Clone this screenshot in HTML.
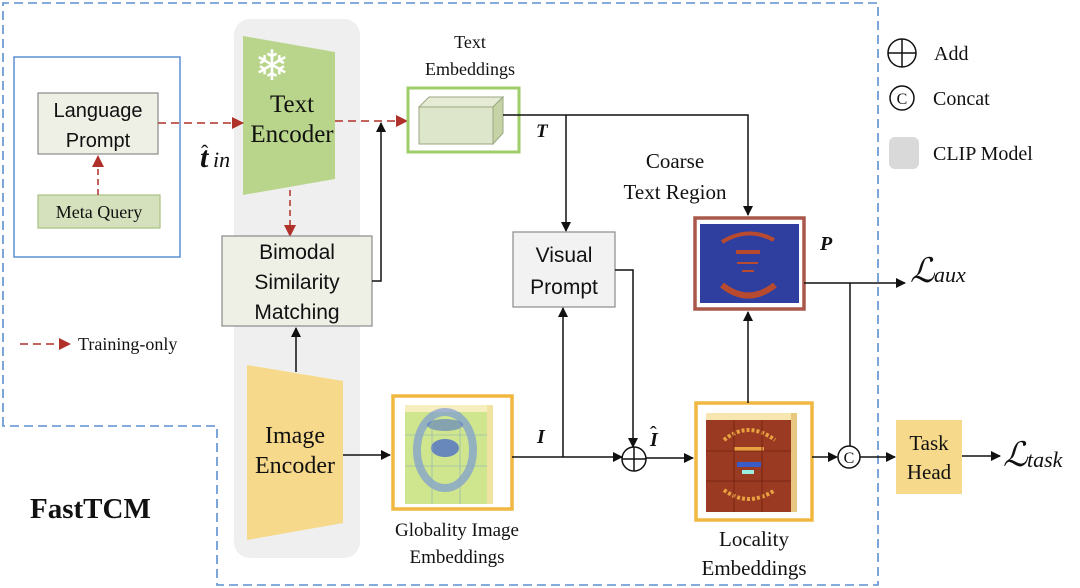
<!DOCTYPE html>
<html><head><meta charset="utf-8"><style>
html,body{margin:0;padding:0;background:#fff;}
svg{display:block;}
text{font-family:"Liberation Serif",serif;fill:#111;}
.sans{font-family:"Liberation Sans",sans-serif;}
</style></head><body>
<svg width="1080" height="588" viewBox="0 0 1080 588" xmlns="http://www.w3.org/2000/svg">
<defs>
<marker id="ab" markerWidth="10" markerHeight="10" refX="9" refY="5" orient="auto" markerUnits="userSpaceOnUse"><path d="M0,0 L10,5 L0,10 z" fill="#111"/></marker>
<marker id="ar" markerWidth="12" markerHeight="12" refX="11" refY="6" orient="auto" markerUnits="userSpaceOnUse"><path d="M0,0 L12,6 L0,12 z" fill="#b0302a"/></marker>
</defs>
<path d="M3,426 L3,3 L878,3 L878,585 L217,585 L217,426 Z" fill="none" stroke="#5b8fd0" stroke-width="1.6" stroke-dasharray="9,5"/>
<rect x="234" y="19" width="126" height="539" rx="16" fill="#efefef"/>
<rect x="14" y="57" width="166" height="200" fill="none" stroke="#5b8fd0" stroke-width="1.5"/>
<rect x="38" y="93" width="120" height="61" fill="#eef0e6" stroke="#8a8a8a" stroke-width="1.2"/>
<text class="sans" x="98" y="117" font-size="20" text-anchor="middle">Language</text>
<text class="sans" x="98" y="147" font-size="20" text-anchor="middle">Prompt</text>
<rect x="38" y="195" width="122" height="33" fill="#d5e0bc" stroke="#a9c282" stroke-width="1.2"/>
<text x="99" y="218" font-size="18" text-anchor="middle">Meta Query</text>
<line x1="98" y1="195" x2="98" y2="156" stroke="#b0302a" stroke-width="1.5" stroke-dasharray="6,4" marker-end="url(#ar)"/>
<polygon points="243,36 335,52 335,179 243,195" fill="#b9d58b"/>
<text x="272" y="80" font-size="42" style="fill:#fff" text-anchor="middle">❄</text>
<text x="292" y="112" font-size="25" text-anchor="middle">Text</text>
<text x="292" y="142" font-size="25" text-anchor="middle">Encoder</text>
<line x1="158" y1="123" x2="243" y2="123" stroke="#b0302a" stroke-width="1.5" stroke-dasharray="8,5" marker-end="url(#ar)"/>
<text x="200" y="167" font-size="30" font-weight="bold" font-style="italic">t</text>
<text x="201" y="160" font-size="22">ˆ</text>
<text x="213" y="167" font-size="22" font-style="italic">in</text>
<line x1="335" y1="121" x2="407" y2="121" stroke="#b0302a" stroke-width="1.5" stroke-dasharray="8,5" marker-end="url(#ar)"/>
<line x1="290" y1="190" x2="290" y2="236" stroke="#b0302a" stroke-width="1.5" stroke-dasharray="6,4" marker-end="url(#ar)"/>
<rect x="222" y="236" width="150" height="90" fill="#eef0e6" stroke="#8a8a8a" stroke-width="1.2"/>
<text class="sans" x="297" y="259" font-size="21" text-anchor="middle">Bimodal</text>
<text class="sans" x="297" y="289" font-size="21" text-anchor="middle">Similarity</text>
<text class="sans" x="297" y="319" font-size="21" text-anchor="middle">Matching</text>
<polyline points="372,281 381,281 381,123" fill="none" stroke="#111" stroke-width="1.5" marker-end="url(#ab)"/>
<polygon points="247,365 343,381 343,523 247,540" fill="#f6d98a"/>
<text x="295" y="443" font-size="24" text-anchor="middle">Image</text>
<text x="295" y="473" font-size="24" text-anchor="middle">Encoder</text>
<line x1="296" y1="372" x2="296" y2="328" stroke="#111" stroke-width="1.5" marker-end="url(#ab)"/>
<line x1="343" y1="455" x2="390" y2="455" stroke="#111" stroke-width="1.5" marker-end="url(#ab)"/>
<line x1="20" y1="344" x2="70" y2="344" stroke="#b0302a" stroke-width="1.5" stroke-dasharray="8,5" marker-end="url(#ar)"/>
<text x="78" y="350" font-size="18">Training-only</text>
<text x="30" y="518" font-size="29" font-weight="bold">FastTCM</text>
<text x="470" y="48" font-size="18" text-anchor="middle">Text</text>
<text x="470" y="75" font-size="18" text-anchor="middle">Embeddings</text>
<rect x="408" y="88" width="111" height="64" fill="#fff" stroke="#9fcd6a" stroke-width="3"/>
<polygon points="419,107 429,97 503,97 493,107" fill="#e6ebd6" stroke="#9aa880"/>
<polygon points="493,107 503,97 503,133 493,144" fill="#c6d3a6" stroke="#9aa880"/>
<rect x="419" y="107" width="74" height="37" fill="#dde5cb" stroke="#9aa880"/>
<text x="536" y="137" font-size="19" font-weight="bold" font-style="italic">T</text>
<polyline points="503,115 748,115 748,215" fill="none" stroke="#111" stroke-width="1.5" marker-end="url(#ab)"/>
<line x1="566" y1="115" x2="566" y2="231" stroke="#111" stroke-width="1.5" marker-end="url(#ab)"/>
<text x="675" y="168" font-size="21" text-anchor="middle">Coarse</text>
<text x="675" y="199" font-size="21" text-anchor="middle">Text Region</text>
<rect x="695" y="218" width="109" height="91" fill="#fff" stroke="#a9584a" stroke-width="3.5"/>
<rect x="700" y="224" width="99" height="79" fill="#2f3fa0"/>
<path d="M722,242 Q748,226 774,240" fill="none" stroke="#b84a30" stroke-width="4"/>
<line x1="736" y1="252" x2="760" y2="252" stroke="#b84a30" stroke-width="4"/>
<line x1="737" y1="263" x2="758" y2="263" stroke="#b84a30" stroke-width="2"/>
<line x1="742" y1="271" x2="754" y2="271" stroke="#b84a30" stroke-width="2"/>
<path d="M722,285 Q748,306 775,285" fill="none" stroke="#b84a30" stroke-width="6"/>
<text x="820" y="250" font-size="20" font-weight="bold" font-style="italic">P</text>
<line x1="804" y1="283" x2="905" y2="283" stroke="#111" stroke-width="1.5" marker-end="url(#ab)"/>
<text x="910" y="282" font-size="34" font-style="italic">ℒ</text>
<text x="934" y="282" font-size="22" font-style="italic">aux</text>
<line x1="850" y1="283" x2="850" y2="446" stroke="#111" stroke-width="1.5"/>
<rect x="513" y="232" width="102" height="75" fill="#f2f2f2" stroke="#8a8a8a" stroke-width="1.2"/>
<text class="sans" x="564" y="262" font-size="21" text-anchor="middle">Visual</text>
<text class="sans" x="564" y="294" font-size="21" text-anchor="middle">Prompt</text>
<polyline points="615,270 633,270 633,447" fill="none" stroke="#111" stroke-width="1.5" marker-end="url(#ab)"/>
<line x1="563" y1="457" x2="563" y2="308" stroke="#111" stroke-width="1.5" marker-end="url(#ab)"/>
<rect x="393" y="396" width="119" height="113" fill="#fff" stroke="#f0b840" stroke-width="3.5"/>
<rect x="405" y="412" width="82" height="92" fill="#cfe68e"/>
<rect x="405" y="405" width="82" height="7" fill="#f7eec0"/>
<rect x="487" y="405" width="6" height="99" fill="#f0e2a0"/>
<ellipse cx="445" cy="450" rx="28" ry="38" fill="none" stroke="#6a8ee0" stroke-width="8" opacity="0.6"/>
<ellipse cx="445" cy="448" rx="14" ry="9" fill="#3c5fd0" opacity="0.7"/>
<ellipse cx="445" cy="425" rx="18" ry="6" fill="#3c5fd0" opacity="0.5"/>
<path d="M405,435 H487 M405,466 H487 M432,412 V504 M460,412 V504" stroke="#8ab" stroke-width="0.6"/>
<text x="457" y="536" font-size="19" text-anchor="middle">Globality Image</text>
<text x="457" y="563" font-size="19" text-anchor="middle">Embeddings</text>
<line x1="512" y1="457" x2="622" y2="457" stroke="#111" stroke-width="1.5" marker-end="url(#ab)"/>
<text x="537" y="443" font-size="20" font-weight="bold" font-style="italic">I</text>
<circle cx="634" cy="459" r="12" fill="#fff" stroke="#111" stroke-width="1.5"/>
<path d="M622,459 H646 M634,447 V471" stroke="#111" stroke-width="1.5"/>
<line x1="646" y1="458" x2="693" y2="458" stroke="#111" stroke-width="1.5" marker-end="url(#ab)"/>
<text x="650" y="446" font-size="20" font-weight="bold" font-style="italic">I</text>
<text x="650" y="440" font-size="20">ˆ</text>
<rect x="696" y="403" width="116" height="117" fill="#fff" stroke="#f0b840" stroke-width="3.5"/>
<rect x="706" y="420" width="85" height="92" fill="#9a3a22"/>
<rect x="706" y="413" width="85" height="7" fill="#f7e6b0"/>
<rect x="791" y="413" width="6" height="99" fill="#e8c880"/>
<path d="M724,440 Q748,420 775,440 M724,490 Q748,508 775,490" fill="none" stroke="#e8a040" stroke-width="4" stroke-dasharray="3,2"/>
<rect x="734" y="447" width="30" height="4" fill="#e8a040"/>
<rect x="737" y="462" width="24" height="5" fill="#3a5cc8"/>
<rect x="742" y="470" width="12" height="4" fill="#9ed"/>
<path d="M706,451 H791 M706,481 H791 M734,420 V512 M762,420 V512" stroke="#702010" stroke-width="0.8"/>
<text x="754" y="546" font-size="21" text-anchor="middle">Locality</text>
<text x="754" y="575" font-size="21" text-anchor="middle">Embeddings</text>
<line x1="748" y1="403" x2="748" y2="312" stroke="#111" stroke-width="1.5" marker-end="url(#ab)"/>
<line x1="812" y1="457" x2="837" y2="457" stroke="#111" stroke-width="1.5" marker-end="url(#ab)"/>
<circle cx="849" cy="457" r="11" fill="#fff" stroke="#111" stroke-width="1.5"/>
<text x="849" y="463" font-size="16" text-anchor="middle">C</text>
<line x1="860" y1="457" x2="895" y2="457" stroke="#111" stroke-width="1.5" marker-end="url(#ab)"/>
<rect x="896" y="420" width="66" height="74" fill="#f6d98a"/>
<text x="929" y="450" font-size="21" text-anchor="middle">Task</text>
<text x="929" y="479" font-size="21" text-anchor="middle">Head</text>
<line x1="962" y1="456" x2="1000" y2="456" stroke="#111" stroke-width="1.5" marker-end="url(#ab)"/>
<text x="1003" y="466" font-size="34" font-style="italic">ℒ</text>
<text x="1027" y="467" font-size="22" font-style="italic">task</text>
<circle cx="902" cy="53" r="14" fill="none" stroke="#111" stroke-width="1.5"/>
<path d="M888,53 H916 M902,39 V67" stroke="#111" stroke-width="1.5"/>
<text x="934" y="60" font-size="20">Add</text>
<circle cx="902" cy="98" r="12" fill="none" stroke="#111" stroke-width="1.5"/>
<text x="902" y="104" font-size="16" text-anchor="middle">C</text>
<text x="933" y="105" font-size="20">Concat</text>
<rect x="889" y="137" width="30" height="32" rx="6" fill="#d9d9d9"/>
<text x="933" y="160" font-size="20">CLIP Model</text>
</svg>
</body></html>
